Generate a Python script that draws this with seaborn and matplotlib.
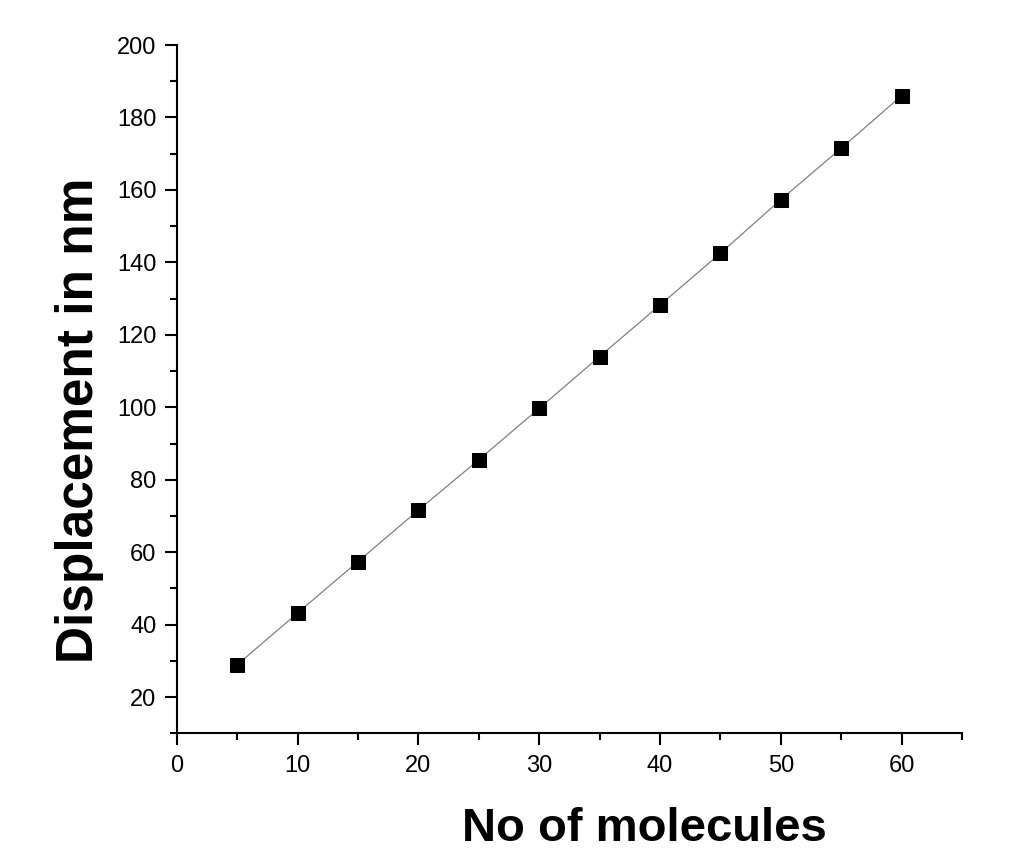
import matplotlib

matplotlib.use("Agg")
import matplotlib.pyplot as plt
import seaborn as sns
from matplotlib.ticker import MultipleLocator
from pandas import DataFrame

molecules = [5, 10, 15, 20, 25, 30, 35, 40, 45, 50, 55, 60]
displacement = [28.9, 43.2, 57.4, 71.6, 85.5, 99.7, 114.0, 128.2, 142.5, 157.3, 171.5, 186.0]

df = DataFrame({"molecules": molecules, "displacement": displacement})

sns.set_style("ticks")
plt.rcParams["font.family"] = ["Liberation Sans", "DejaVu Sans"]

fig = plt.figure(figsize=(10.11, 8.51), dpi=100)
ax = fig.add_axes([0.1748, 0.1383, 0.7767, 0.8088])

sns.lineplot(
    data=df,
    x="molecules",
    y="displacement",
    color="#808080",
    linewidth=0.9,
    marker="s",
    markersize=10,
    markerfacecolor="black",
    markeredgecolor="black",
    ax=ax,
)

ax.set_xlim(0, 65)
ax.set_ylim(10, 200)
ax.xaxis.set_major_locator(MultipleLocator(10))
ax.xaxis.set_minor_locator(MultipleLocator(5))
ax.yaxis.set_minor_locator(MultipleLocator(10))
ax.set_yticks([20, 40, 60, 80, 100, 120, 140, 160, 180, 200])

for side in ["top", "right"]:
    ax.spines[side].set_visible(False)
for side in ["left", "bottom"]:
    ax.spines[side].set_linewidth(1.5)
    ax.spines[side].set_color("black")

ax.tick_params(which="major", direction="out", length=8.5, width=1.5, labelsize=17,
               colors="black")
ax.tick_params(which="minor", direction="out", length=5, width=1.5, colors="black")
ax.tick_params(axis="y", which="major", pad=6)
ax.tick_params(axis="x", which="major", pad=7)

ax.set_xlabel("No of molecules", fontsize=34, fontweight="bold", color="black")
ax.set_ylabel("Displacement in nm", fontsize=37, fontweight="bold", color="black")
ax.xaxis.set_label_coords(0.595, -0.107)
ax.yaxis.set_label_coords(-0.093, 0.455)

fig.savefig("out.png", dpi=100)
